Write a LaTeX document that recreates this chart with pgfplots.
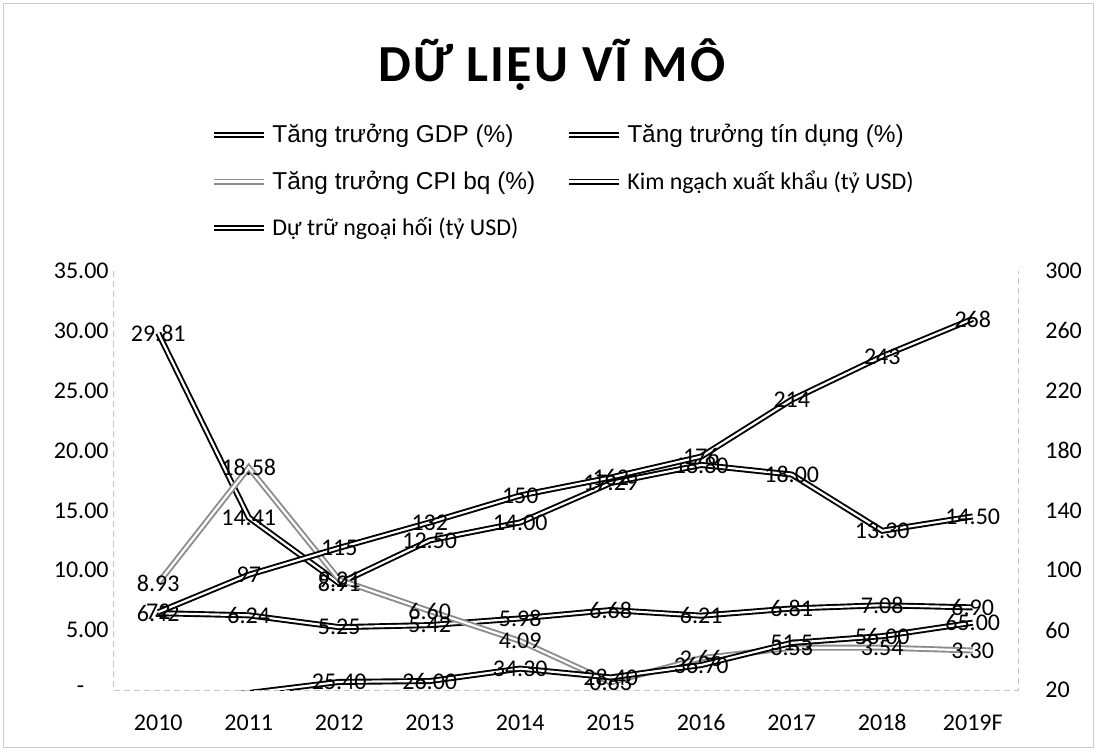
\documentclass[border=0pt]{standalone}
\usepackage{fontspec}
\setmainfont{Carlito}
\newfontfamily\arialf{Liberation Sans}
\usepackage{pgfplots}
\pgfplotsset{compat=1.18}
\tikzset{
  dbl/.style={draw=black, line width=0.95pt, double=white, double distance=1.1pt},
  dblgray/.style={draw=black!45, line width=0.95pt, double=white, double distance=1.1pt},
}
\newcommand{\lblfont}{\fontsize{12}{14}\selectfont}
\pgfplotsset{
  common/.style={
    scale only axis, width=452.5pt, height=209.5pt,
    xmin=-0.5, xmax=9.5,
    /pgf/number format/assume math mode=true,
    axis line style={draw=none}, major tick length=0pt, tick style={draw=none},
    tick label style={font=\lblfont},
    every node near coord/.append style={font=\lblfont, inner sep=0pt, text=black},
    nodes near coords align={center},
    legend image code/.code={\draw[#1] (0pt,0pt) -- (25pt,0pt);},
  },
  pct/.style={nodes near coords={\pgfmathprintnumber[fixed,fixed zerofill,precision=2,assume math mode=true]{\pgfplotspointmeta}}},
}
\begin{document}
\begin{tikzpicture}
\begin{axis}[common,
  ymin=0, ymax=35,
  xtick={0,...,9}, xticklabels={2010,2011,2012,2013,2014,2015,2016,2017,2018,2019F},
  xticklabel style={anchor=base, inner sep=0pt, yshift=-20.3pt},
  ytick={0,5,...,35}, yticklabels={-\hphantom{00},5.00,10.00,15.00,20.00,25.00,30.00,35.00},
  yticklabel style={anchor=east, inner sep=0pt, xshift=-2pt},
]
% GDP growth
\addplot[dbl, no marks, pct] coordinates {(0,6.42)(1,6.24)(2,5.25)(3,5.42)(4,5.98)(5,6.68)(6,6.21)(7,6.81)(8,7.08)(9,6.90)};
% Credit growth
\addplot[dbl, no marks, pct] coordinates {(0,29.81)(1,14.41)(2,8.91)(3,12.50)(4,14.00)(5,17.29)(6,18.80)(7,18.00)(8,13.30)(9,14.50)};
% CPI
\addplot[dblgray, no marks, pct] coordinates {(0,8.93)(1,18.58)(2,9.21)(3,6.60)(4,4.09)(5,0.63)(6,2.66)(7,3.53)(8,3.54)(9,3.30)};
\end{axis}
\begin{axis}[common,
  ymin=20, ymax=300,
  axis x line=none, axis y line*=right,
  ytick={20,60,...,300},
  yticklabel style={anchor=west, inner sep=0pt, xshift=13.5pt},
  legend columns=2,
  legend cell align=left,
  legend style={at={(0.1083,1.363)}, anchor=north west, draw=none, fill=none,
    inner sep=0pt, row sep=7.5pt,
    nodes={inner sep=2.5pt},
    /tikz/every even column/.append style={column sep=13pt}},
]
\addlegendimage{dbl}
\addlegendentry{\arialf\fontsize{12.2}{14}\selectfont Tăng trưởng GDP (\%)}
\addlegendimage{dbl}
\addlegendentry{\arialf\fontsize{12.2}{14}\selectfont Tăng trưởng tín dụng (\%)}
\addlegendimage{dblgray}
\addlegendentry{\arialf\fontsize{12.2}{14}\selectfont Tăng trưởng CPI bq (\%)}
% Exports (bn USD)
\addplot[dbl, no marks, nodes near coords={\pgfmathprintnumber[fixed,precision=0,assume math mode=true]{\pgfplotspointmeta}}]
  coordinates {(0,72)(1,97)(2,115)(3,132)(4,150)(5,162)(6,176)(7,214)(8,243)(9,268)};
\addlegendentry{\fontsize{12}{14}\selectfont Kim ngạch xuất khẩu (tỷ USD)}
% FX reserves (bn USD)
\addplot[dbl, no marks] coordinates {(0,12.4)(1,18.0)(2,25.4)(3,26.0)(4,34.3)(5,28.4)(6,36.7)(7,51.5)(8,56.0)(9,65.0)};
\addlegendentry{\fontsize{12}{14}\selectfont Dự trữ ngoại hối (tỷ USD)}
\addplot[draw=none, no marks, forget plot, point meta=explicit symbolic, nodes near coords]
  table[meta=l] {
x y l
2 25.4 25.40
3 26.0 26.00
4 34.3 34.30
5 28.4 28.40
6 36.7 36.70
7 51.5 51.5
8 56.0 56.00
9 65.0 65.00
};
\end{axis}
\draw[gray!45, densely dashed, line width=0.4pt] (0pt,209.5pt) -- (0pt,0pt) -- (452.5pt,0pt) -- (452.5pt,209.5pt);
\node[font=\fontsize{26}{30}\selectfont\bfseries\addfontfeature{LetterSpace=4}] at (219.5pt,312.5pt) {DỮ LIỆU VĨ MÔ};
\draw[gray!40, line width=0.5pt] (-54.5pt,-28.5pt) rectangle (490pt,343pt);
\pgfresetboundingbox
\path (-56.5pt,-30.5pt) rectangle (492pt,345pt);
\end{tikzpicture}
\end{document}
